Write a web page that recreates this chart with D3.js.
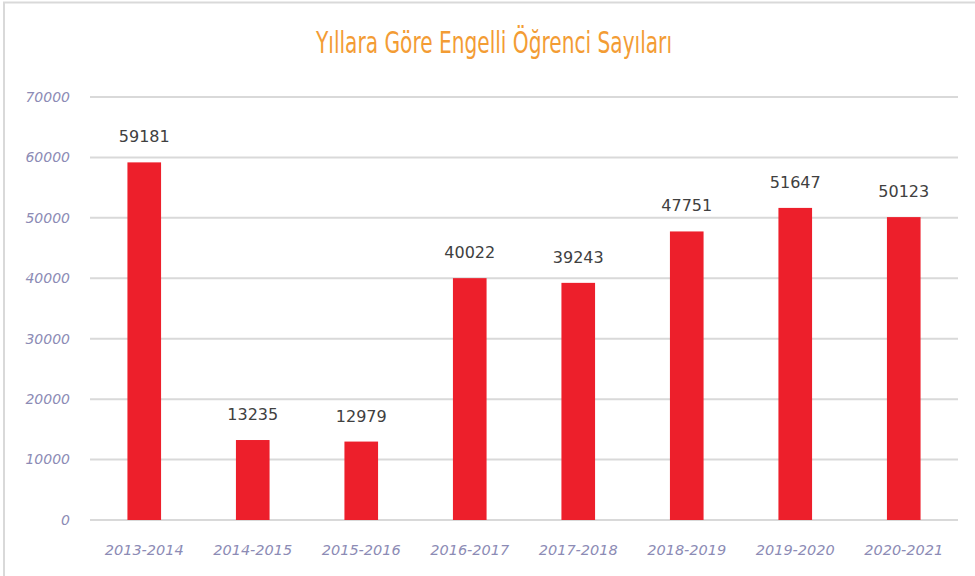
<!DOCTYPE html>
<html>
<head>
<meta charset="utf-8">
<script src="https://cdn.jsdelivr.net/npm/d3@7"></script>
<style>
  body { margin: 0; background: #fff; }
  svg { display: block; }
</style>
</head>
<body>
<svg id="chart"></svg>
<script>
const categories = ['2013-2014', '2014-2015', '2015-2016', '2016-2017', '2017-2018', '2018-2019', '2019-2020', '2020-2021'];
const values = [59181, 13235, 12979, 40022, 39243, 47751, 51647, 50123];
const yTicks = [0, 10000, 20000, 30000, 40000, 50000, 60000, 70000];
const title = 'Yıllara Göre Engelli Öğrenci Sayıları';

const width = 975,
  height = 576;
const margin = { top: 97, right: 17, bottom: 56, left: 90 };

const svg = d3.select('#chart').attr('width', width).attr('height', height);

// outer frame
svg.append('rect')
  .attr('x', 4).attr('y', 2.5)
  .attr('width', width).attr('height', height)
  .attr('fill', '#fff')
  .attr('stroke', '#d9d9d9')
  .attr('stroke-width', 2);

svg.append('text')
  .attr('x', 494)
  .attr('y', 53)
  .attr('text-anchor', 'middle')
  .attr('textLength', 356)
  .attr('lengthAdjust', 'spacingAndGlyphs')
  .style('font-family', '"DejaVu Sans Condensed", "Liberation Sans Narrow", sans-serif')
  .style('font-size', '30px')
  .style('fill', '#f39c34')
  .text(title);

const x = d3.scaleBand()
  .domain(categories)
  .range([margin.left, width - margin.right])
  .paddingInner(0.69)
  .paddingOuter(0.345);

const y = d3.scaleLinear()
  .domain([0, 70000])
  .range([height - margin.bottom, margin.top]);

const g = svg.append('g');

g.selectAll('line.grid')
  .data(yTicks)
  .enter()
  .append('line')
  .attr('class', 'grid')
  .attr('x1', margin.left)
  .attr('x2', width - margin.right)
  .attr('y1', d => y(d))
  .attr('y2', d => y(d))
  .attr('stroke', '#d9d9d9')
  .attr('stroke-width', 2);

g.selectAll('text.ytick')
  .data(yTicks)
  .enter()
  .append('text')
  .attr('class', 'ytick')
  .attr('x', 70)
  .attr('y', d => y(d))
  .attr('dy', '0.35em')
  .attr('text-anchor', 'end')
  .style('font-family', '"DejaVu Sans", sans-serif')
  .style('font-style', 'italic')
  .style('font-size', '14px')
  .style('fill', '#8c8bb5')
  .text(d => d);

g.selectAll('rect.bar')
  .data(values)
  .enter()
  .append('rect')
  .attr('class', 'bar')
  .attr('x', (d, i) => x(categories[i]))
  .attr('y', d => y(d))
  .attr('width', x.bandwidth())
  .attr('height', d => y(0) - y(d))
  .attr('fill', '#ed1f2b');

g.selectAll('text.val')
  .data(values)
  .enter()
  .append('text')
  .attr('class', 'val')
  .attr('x', (d, i) => x(categories[i]) + x.bandwidth() / 2)
  .attr('y', d => y(d) - 20)
  .attr('text-anchor', 'middle')
  .style('font-family', '"DejaVu Sans", sans-serif')
  .style('font-size', '16px')
  .style('fill', '#404040')
  .text(d => d);

g.selectAll('text.xtick')
  .data(categories)
  .enter()
  .append('text')
  .attr('class', 'xtick')
  .attr('x', d => x(d) + x.bandwidth() / 2)
  .attr('y', 555)
  .attr('text-anchor', 'middle')
  .style('font-family', '"DejaVu Sans", sans-serif')
  .style('font-style', 'italic')
  .style('font-size', '14.5px')
  .style('fill', '#8c8bb5')
  .text(d => d);
</script>
</body>
</html>
